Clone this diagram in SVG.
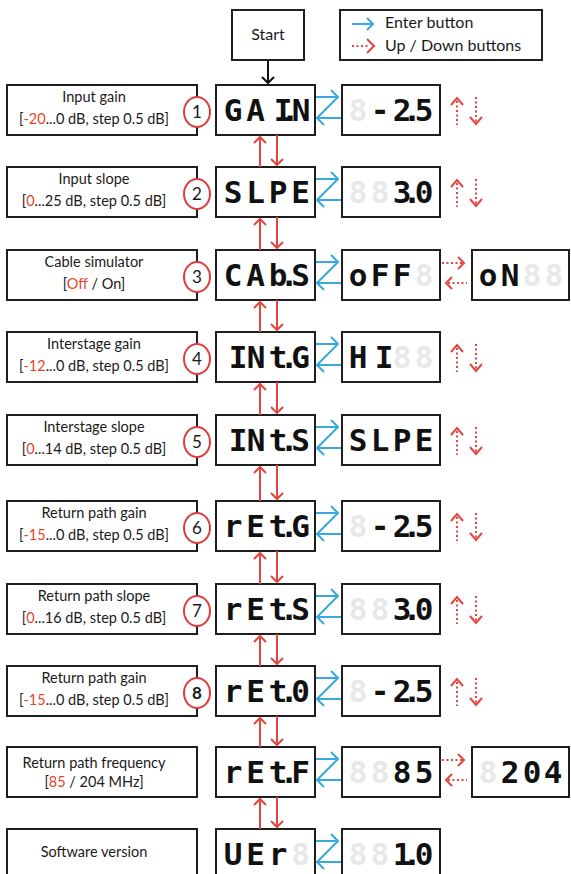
<svg xmlns="http://www.w3.org/2000/svg" width="571" height="874" viewBox="0 0 571 874">
<style>
.box{fill:#fff;stroke:#1e1e1e;stroke-width:2}
.lbl{font-family:Lato,"Open Sans","Liberation Sans",sans-serif;font-size:14.5px;fill:#1a1a1a;text-anchor:middle}
.leg{font-family:Lato,"Open Sans","Liberation Sans",sans-serif;font-size:16px;fill:#1a1a1a}
.red{fill:#e5452b}
.seg{font-family:"DejaVu Sans Mono","Liberation Mono",monospace;font-size:31px;font-weight:bold;fill:#111;text-anchor:middle}
.ghost{font-family:"DejaVu Sans Mono","Liberation Mono",monospace;font-size:31px;font-weight:bold;fill:#e8e8e8;text-anchor:middle}
.circ{fill:#fff;stroke:#e03c3c;stroke-width:2}
.num{font-family:Lato,"Open Sans","Liberation Sans",sans-serif;font-size:17px;fill:#1a1a1a;text-anchor:middle}
.blue{fill:none;stroke:#38a9dc;stroke-width:2}
.rl{fill:none;stroke:#e5453f;stroke-width:2}
.rd{fill:none;stroke:#e5453f;stroke-width:2;stroke-dasharray:2 2.5}
.blk{fill:none;stroke:#111;stroke-width:2}
</style>

<g id="start">
<rect class="box" x="232" y="10" width="72" height="50"/>
<text class="leg" x="268" y="40" text-anchor="middle">Start</text>
</g>

<g id="legend">
<rect class="box" x="340" y="10" width="202" height="50"/>
<path class="blue" d="M352,24H373 M367,18L373,24L367,30"/>
<path class="rd" d="M352,46H370"/>
<path class="rl" d="M367,39L374,46L367,53"/>
<text class="leg" x="385" y="28">Enter button</text>
<text class="leg" x="385" y="51">Up / Down buttons</text>
</g>

<!-- Row 1 -->
<g id="label1">
<rect class="box" x="7" y="85" width="190" height="50"/>
<text class="lbl" x="94" y="102">Input gain</text>
<text class="lbl" x="94" y="124">[<tspan class="red">-20</tspan>...0 dB, step 0.5 dB]</text>
<ellipse class="circ" cx="197" cy="112" rx="13" ry="15"/>
<text class="num" x="197" y="118">1</text>
</g>
<g id="disp1">
<rect class="box" x="216" y="85" width="99" height="50"/>
<text class="seg" x="233 255.5 283 290 301" y="121">GAI.N</text>
</g>
<g id="val1">
<rect class="box" x="342" y="85" width="98" height="50"/>
<text class="ghost" x="358" y="121">8</text>
<text class="seg" x="380 402 412 424" y="121">-2.5</text>
</g>

<!-- Row 2 -->
<g id="label2">
<rect class="box" x="7" y="167" width="190" height="50"/>
<text class="lbl" x="94" y="184">Input slope</text>
<text class="lbl" x="94" y="206">[<tspan class="red">0</tspan>...25 dB, step 0.5 dB]</text>
<ellipse class="circ" cx="197" cy="194" rx="13" ry="15"/>
<text class="num" x="197" y="200">2</text>
</g>
<g id="disp2">
<rect class="box" x="216" y="167" width="99" height="50"/>
<text class="seg" x="233 255.5 278 300.5" y="203">SLPE</text>
</g>
<g id="val2">
<rect class="box" x="342" y="167" width="98" height="50"/>
<text class="ghost" x="358 380" y="203">88</text>
<text class="seg" x="402 412 424" y="203">3.0</text>
</g>

<!-- Row 3 -->
<g id="label3">
<rect class="box" x="7" y="250" width="190" height="50"/>
<text class="lbl" x="94" y="267">Cable simulator</text>
<text class="lbl" x="94" y="289">[<tspan class="red">Off</tspan> / On]</text>
<ellipse class="circ" cx="197" cy="277" rx="13" ry="15"/>
<text class="num" x="197" y="283">3</text>
</g>
<g id="disp3">
<rect class="box" x="216" y="250" width="99" height="50"/>
<text class="seg" x="233 255.5 278 289 300.5" y="286">CAb.S</text>
</g>
<g id="val3">
<rect class="box" x="342" y="250" width="98" height="50"/>
<text class="ghost" x="424" y="286">8</text>
<text class="seg" x="358 380 402" y="286">oFF</text>
</g>
<g id="opt3">
<rect class="box" x="472" y="250" width="97" height="50"/>
<text class="ghost" x="532 554" y="286">88</text>
<text class="seg" x="488 510" y="286">oN</text>
</g>

<!-- Row 4 -->
<g id="label4">
<rect class="box" x="7" y="332" width="190" height="50"/>
<text class="lbl" x="94" y="349">Interstage gain</text>
<text class="lbl" x="94" y="371">[<tspan class="red">-12</tspan>...0 dB, step 0.5 dB]</text>
<ellipse class="circ" cx="197" cy="359" rx="13" ry="15"/>
<text class="num" x="197" y="365">4</text>
</g>
<g id="disp4">
<rect class="box" x="216" y="332" width="99" height="50"/>
<text class="seg" x="238 256 278 289 300.5" y="368">INt.G</text>
</g>
<g id="val4">
<rect class="box" x="342" y="332" width="98" height="50"/>
<text class="ghost" x="402 424" y="368">88</text>
<text class="seg" x="358 384" y="368">HI</text>
</g>

<!-- Row 5 -->
<g id="label5">
<rect class="box" x="7" y="415" width="190" height="50"/>
<text class="lbl" x="94" y="432">Interstage slope</text>
<text class="lbl" x="94" y="454">[<tspan class="red">0</tspan>...14 dB, step 0.5 dB]</text>
<ellipse class="circ" cx="197" cy="442" rx="13" ry="15"/>
<text class="num" x="197" y="448">5</text>
</g>
<g id="disp5">
<rect class="box" x="216" y="415" width="99" height="50"/>
<text class="seg" x="238 256 278 289 300.5" y="451">INt.S</text>
</g>
<g id="val5">
<rect class="box" x="342" y="415" width="98" height="50"/>
<text class="seg" x="358 380 402 424" y="451">SLPE</text>
</g>

<!-- Row 6 -->
<g id="label6">
<rect class="box" x="7" y="501" width="190" height="50"/>
<text class="lbl" x="94" y="518">Return path gain</text>
<text class="lbl" x="94" y="540">[<tspan class="red">-15</tspan>...0 dB, step 0.5 dB]</text>
<ellipse class="circ" cx="197" cy="528" rx="13" ry="15"/>
<text class="num" x="197" y="534">6</text>
</g>
<g id="disp6">
<rect class="box" x="216" y="501" width="99" height="50"/>
<text class="seg" x="233 255.5 278 289 300.5" y="537">rEt.G</text>
</g>
<g id="val6">
<rect class="box" x="342" y="501" width="98" height="50"/>
<text class="ghost" x="358" y="537">8</text>
<text class="seg" x="380 402 412 424" y="537">-2.5</text>
</g>

<!-- Row 7 -->
<g id="label7">
<rect class="box" x="7" y="584" width="190" height="50"/>
<text class="lbl" x="94" y="601">Return path slope</text>
<text class="lbl" x="94" y="623">[<tspan class="red">0</tspan>...16 dB, step 0.5 dB]</text>
<ellipse class="circ" cx="197" cy="611" rx="13" ry="15"/>
<text class="num" x="197" y="617">7</text>
</g>
<g id="disp7">
<rect class="box" x="216" y="584" width="99" height="50"/>
<text class="seg" x="233 255.5 278 289 300.5" y="620">rEt.S</text>
</g>
<g id="val7">
<rect class="box" x="342" y="584" width="98" height="50"/>
<text class="ghost" x="358 380" y="620">88</text>
<text class="seg" x="402 412 424" y="620">3.0</text>
</g>

<!-- Row 8 -->
<g id="label8">
<rect class="box" x="7" y="666" width="190" height="50"/>
<text class="lbl" x="94" y="683">Return path gain</text>
<text class="lbl" x="94" y="705">[<tspan class="red">-15</tspan>...0 dB, step 0.5 dB]</text>
<ellipse class="circ" cx="197" cy="693" rx="13" ry="15"/>
<text class="num" x="197" y="699" font-weight="bold">8</text>
</g>
<g id="disp8">
<rect class="box" x="216" y="666" width="99" height="50"/>
<text class="seg" x="233 255.5 278 289 300.5" y="702">rEt.0</text>
</g>
<g id="val8">
<rect class="box" x="342" y="666" width="98" height="50"/>
<text class="ghost" x="358" y="702">8</text>
<text class="seg" x="380 402 412 424" y="702">-2.5</text>
</g>

<!-- Row 9 -->
<g id="label9">
<rect class="box" x="7" y="747" width="190" height="50"/>
<text class="lbl" x="94" y="768">Return path frequency</text>
<text class="lbl" x="94" y="787">[<tspan class="red">85</tspan> / 204 MHz]</text>
</g>
<g id="disp9">
<rect class="box" x="216" y="747" width="99" height="50"/>
<text class="seg" x="233 255.5 278 289 300.5" y="783">rEt.F</text>
</g>
<g id="val9">
<rect class="box" x="342" y="747" width="98" height="50"/>
<text class="ghost" x="358 380" y="783">88</text>
<text class="seg" x="402 424" y="783">85</text>
</g>
<g id="opt9">
<rect class="box" x="472" y="747" width="97" height="50"/>
<text class="ghost" x="488" y="783">8</text>
<text class="seg" x="510 532 553" y="783">204</text>
</g>

<!-- Row 10 -->
<g id="label10">
<rect class="box" x="7" y="829" width="190" height="50"/>
<text class="lbl" x="94" y="857">Software version</text>
</g>
<g id="disp10">
<rect class="box" x="216" y="829" width="99" height="50"/>
<text class="ghost" x="300.5" y="865">8</text>
<text class="seg" x="233 255.5 278" y="865">UEr</text>
</g>
<g id="val10">
<rect class="box" x="342" y="829" width="98" height="50"/>
<text class="ghost" x="358 380" y="865">88</text>
<text class="seg" x="402 412 424" y="865">1.0</text>
</g>

<g id="connectors">
<path class="blk" d="M268,60V83 M262,77L268,83L274,77"/>
<path class="rl" d="M260,167V137 M254,143L260,137L266,143 M277,135V165 M271,159L277,165L283,159"/>
<path class="rl" d="M260,250V219 M254,225L260,219L266,225 M277,217V248 M271,242L277,248L283,242"/>
<path class="rl" d="M260,332V302 M254,308L260,302L266,308 M277,300V330 M271,324L277,330L283,324"/>
<path class="rl" d="M260,415V384 M254,390L260,384L266,390 M277,382V413 M271,407L277,413L283,407"/>
<path class="rl" d="M260,501V467 M254,473L260,467L266,473 M277,465V499 M271,493L277,499L283,493"/>
<path class="rl" d="M260,584V553 M254,559L260,553L266,559 M277,551V582 M271,576L277,582L283,576"/>
<path class="rl" d="M260,666V636 M254,642L260,636L266,642 M277,634V664 M271,658L277,664L283,658"/>
<path class="rl" d="M260,747V718 M254,724L260,718L266,724 M277,716V745 M271,739L277,745L283,739"/>
<path class="rl" d="M260,829V799 M254,805L260,799L266,805 M277,797V827 M271,821L277,827L283,821"/>
<path class="blue" d="M316,97H338 M331,90L338,97L317,118L324,125 M317,118H341"/>
<path class="blue" d="M316,179H338 M331,172L338,179L317,200L324,207 M317,200H341"/>
<path class="blue" d="M316,262H338 M331,255L338,262L317,283L324,290 M317,283H341"/>
<path class="blue" d="M316,344H338 M331,337L338,344L317,365L324,372 M317,365H341"/>
<path class="blue" d="M316,427H338 M331,420L338,427L317,448L324,455 M317,448H341"/>
<path class="blue" d="M316,513H338 M331,506L338,513L317,534L324,541 M317,534H341"/>
<path class="blue" d="M316,596H338 M331,589L338,596L317,617L324,624 M317,617H341"/>
<path class="blue" d="M316,678H338 M331,671L338,678L317,699L324,706 M317,699H341"/>
<path class="blue" d="M316,759H338 M331,752L338,759L317,780L324,787 M317,780H341"/>
<path class="blue" d="M316,841H338 M331,834L338,841L317,862L324,869 M317,862H341"/>
<path class="rl" d="M451,105L457,98L463,105 M470,117L476,124L482,117"/>
<path class="rd" d="M457,101V125 M476,97V122"/>
<path class="rl" d="M451,187L457,180L463,187 M470,199L476,206L482,199"/>
<path class="rd" d="M457,183V207 M476,179V204"/>
<path class="rl" d="M451,352L457,345L463,352 M470,364L476,371L482,364"/>
<path class="rd" d="M457,348V372 M476,344V369"/>
<path class="rl" d="M451,435L457,428L463,435 M470,447L476,454L482,447"/>
<path class="rd" d="M457,431V455 M476,427V452"/>
<path class="rl" d="M451,521L457,514L463,521 M470,533L476,540L482,533"/>
<path class="rd" d="M457,517V541 M476,513V538"/>
<path class="rl" d="M451,604L457,597L463,604 M470,616L476,623L482,616"/>
<path class="rd" d="M457,600V624 M476,596V621"/>
<path class="rl" d="M451,686L457,679L463,686 M470,698L476,705L482,698"/>
<path class="rd" d="M457,682V706 M476,678V703"/>
<path class="rd" d="M442,263H462 M448,283H467"/>
<path class="rl" d="M458,257L464,263L458,269 M452,277L446,283L452,289"/>
<path class="rd" d="M442,760H462 M448,780H467"/>
<path class="rl" d="M458,754L464,760L458,766 M452,774L446,780L452,786"/>
</g>
</svg>
